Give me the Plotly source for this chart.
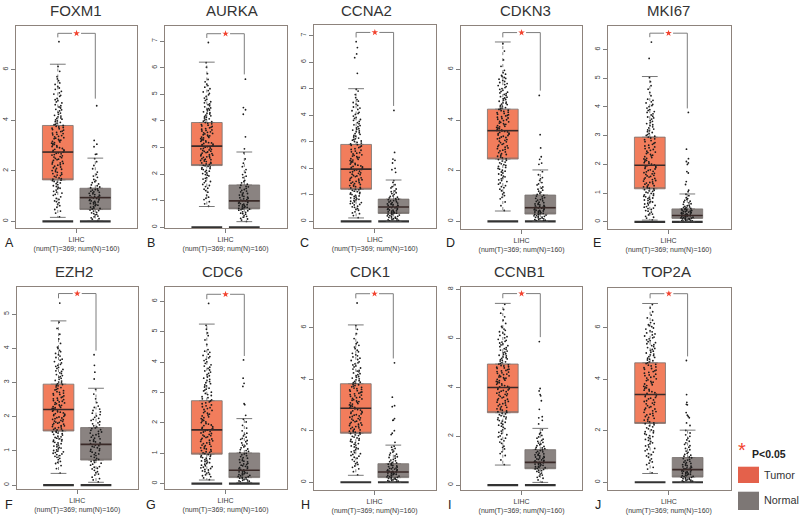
import plotly.graph_objects as go

genes = ["FOXM1", "AURKA", "CCNA2", "CDKN3", "MKI67", "EZH2", "CDC6", "CDK1", "CCNB1", "TOP2A"]
letters = ["A", "B", "C", "D", "E", "F", "G", "H", "I", "J"]
x_label = "LIHC<br>(num(T)=369; num(N)=160)"

y_ticks = [[0,2,4,6],[0,1,2,3,4,5,6,7],[0,1,2,3,4,5,6,7],[0,2,4,6],[0,1,2,3,4,5,6],
           [0,1,2,3,4,5],[0,1,2,3,4,5,6],[0,2,4,6],[0,2,4,6,8],[0,2,4,6]]
y_low = [-0.26,-0.04,-0.26,-0.30,-0.25,-0.125,-0.185,-0.30,-0.20,-0.30]
y_high = [7.72,7.57,7.40,7.71,6.82,5.80,6.46,7.57,8.10,7.55]

# box statistics: lower whisker, q1, median, q3, upper whisker
tumor_stats = [[0.16,1.64,2.74,3.79,6.21],[0.78,2.32,3.05,3.94,6.21],[0.13,1.21,1.97,2.90,5.00],
               [0.41,2.46,3.58,4.43,7.08],[0.06,1.15,1.97,2.95,5.06],[0.34,1.58,2.21,2.95,4.80],
               [0.12,0.97,1.77,2.73,5.25],[0.27,1.90,2.87,3.82,6.10],[0.82,2.96,3.99,4.95,7.43],
               [0.34,2.28,3.40,4.63,6.93]]
normal_stats = [[0.03,0.47,0.94,1.31,2.50],[0.21,0.69,0.99,1.59,2.83],[0.0,0.30,0.54,0.84,1.56],
                [0.0,0.29,0.54,1.04,2.03],[0.0,0.12,0.22,0.45,0.97],[0.08,0.73,1.19,1.68,2.83],
                [0.04,0.20,0.44,1.01,2.14],[0.0,0.18,0.40,0.72,1.44],[0.11,0.67,0.93,1.45,2.32],
                [0.0,0.20,0.49,0.96,2.02]]

# significance bracket: top, left foot, right foot
bracket_top = [7.43,7.28,7.12,7.45,6.57,5.60,6.23,7.31,7.83,7.31]
bracket_left = [7.27,7.12,6.93,7.26,6.43,5.46,6.07,7.13,7.64,7.13]
bracket_right = [4.85,5.75,4.35,5.16,3.95,3.93,4.20,4.80,6.05,4.88]

foxm1_t = [0.18,0.33,0.41,0.56,0.62,0.74,0.81,0.87,0.97,1.03,1.12,1.16,1.24,1.29,1.34,1.41,1.45,1.52,1.58,1.63,1.67,1.72,1.78,1.83,1.86,1.92,1.97,2.03,2.06,2.12,2.18,2.22,2.27,2.31,2.37,2.41,2.46,2.52,2.56,2.62,2.67,2.71,2.76,2.81,2.85,2.91,2.96,3.02,3.07,3.11,3.16,3.21,3.27,3.31,3.36,3.42,3.47,3.52,3.57,3.63,3.68,3.73,3.79,3.84,3.91,3.97,4.04,4.09,4.16,4.23,4.28,4.37,4.43,4.52,4.61,4.68,4.77,4.86,4.94,5.03,5.14,5.22,5.33,5.41,5.56,5.72,5.93,6.12,7.10]
foxm1_t2 = [0.47,0.68,0.78,0.91,1.07,1.19,1.31,1.38,1.49,1.55,1.61,1.69,1.75,1.81,1.89,1.94,2.01,2.09,2.15,2.24,2.29,2.34,2.44,2.49,2.54,2.59,2.64,2.69,2.74,2.79,2.83,2.88,2.94,2.99,3.04,3.09,3.14,3.19,3.24,3.29,3.34,3.39,3.44,3.49,3.55,3.61,3.66,3.71,3.76,3.82,3.88,3.94,4.01,4.07,4.13,4.19,4.31,4.41,4.48,4.57,4.72,4.81,4.98,5.08,5.27,5.47,5.63]
foxm1_n = [0.04,0.09,0.14,0.21,0.26,0.31,0.36,0.41,0.45,0.49,0.53,0.58,0.62,0.66,0.71,0.75,0.79,0.83,0.87,0.91,0.95,0.98,1.02,1.06,1.11,1.15,1.19,1.24,1.28,1.33,1.41,1.48,1.57,1.66,1.74,1.86,1.95,2.08,2.21,2.36,2.48,2.65,2.66,2.95,3.05,3.20,4.57]
foxm1_n2 = [0.11,0.18,0.28,0.34,0.43,0.51,0.56,0.64,0.69,0.73,0.77,0.81,0.85,0.89,0.93,0.97,1.01,1.04,1.09,1.13,1.17,1.22,1.26,1.36,1.44,1.53,1.61,1.79]
aurka_t = [0.79,0.88,0.96,1.04,1.13,1.21,1.32,1.38,1.47,1.53,1.61,1.68,1.74,1.81,1.87,1.93,1.98,2.04,2.09,2.14,2.19,2.24,2.29,2.33,2.38,2.42,2.47,2.51,2.54,2.58,2.63,2.67,2.71,2.74,2.79,2.83,2.86,2.91,2.95,2.98,3.03,3.07,3.11,3.15,3.18,3.23,3.27,3.31,3.36,3.39,3.44,3.48,3.53,3.57,3.62,3.66,3.71,3.76,3.81,3.86,3.91,3.97,4.03,4.08,4.14,4.19,4.26,4.31,4.38,4.44,4.49,4.57,4.64,4.72,4.81,4.92,5.03,5.14,5.27,5.38,5.56,5.78,6.02,6.19,6.95]
aurka_t2 = [1.09,1.43,1.57,1.72,1.84,1.96,2.02,2.11,2.17,2.21,2.27,2.31,2.36,2.41,2.44,2.49,2.53,2.56,2.61,2.65,2.69,2.73,2.77,2.81,2.85,2.89,2.93,2.97,3.01,3.05,3.09,3.13,3.17,3.21,3.25,3.29,3.33,3.38,3.42,3.46,3.51,3.55,3.59,3.64,3.69,3.74,3.79,3.84,3.89,3.94,3.99,4.06,4.11,4.17,4.22,4.29,4.34,4.41,4.46,4.53,4.61,4.68,4.77,4.86,4.98,5.09,5.21,5.33,5.47]
aurka_n = [0.22,0.27,0.33,0.38,0.44,0.49,0.53,0.58,0.62,0.66,0.69,0.72,0.75,0.78,0.82,0.85,0.89,0.93,0.97,1.00,1.04,1.09,1.13,1.18,1.24,1.29,1.36,1.42,1.49,1.54,1.58,1.67,1.76,1.87,1.98,2.06,2.17,2.28,2.41,2.57,2.80,2.95,3.40,4.25,4.42,4.50,5.57]
aurka_n2 = [0.31,0.41,0.51,0.56,0.64,0.68,0.71,0.74,0.77,0.81,0.84,0.87,0.91,0.95,0.99,1.02,1.07,1.11,1.16,1.21,1.27,1.33,1.39,1.46,1.52,1.62,1.72,1.92]
ccna2_t = [0.14,0.22,0.29,0.36,0.42,0.48,0.53,0.57,0.62,0.67,0.71,0.76,0.81,0.85,0.89,0.94,0.98,1.03,1.07,1.12,1.17,1.21,1.26,1.31,1.35,1.39,1.44,1.48,1.53,1.57,1.62,1.66,1.71,1.76,1.81,1.85,1.89,1.94,1.98,2.03,2.07,2.12,2.16,2.21,2.26,2.31,2.36,2.41,2.46,2.51,2.57,2.62,2.68,2.74,2.81,2.87,2.92,2.98,3.03,3.09,3.14,3.21,3.28,3.34,3.41,3.47,3.52,3.61,3.68,3.77,3.84,3.92,4.03,4.11,4.22,4.31,4.42,4.53,4.66,4.78,4.91,4.98,5.58,6.17,6.31,6.55,6.77]
ccna2_t2 = [0.32,0.45,0.55,0.64,0.69,0.74,0.79,0.83,0.87,0.91,0.96,1.01,1.05,1.09,1.14,1.19,1.24,1.28,1.33,1.37,1.42,1.46,1.51,1.55,1.59,1.64,1.69,1.73,1.78,1.83,1.87,1.92,1.96,2.01,2.05,2.09,2.14,2.19,2.24,2.29,2.34,2.39,2.44,2.49,2.54,2.59,2.65,2.71,2.78,2.84,2.89,2.95,3.01,3.06,3.11,3.18,3.24,3.31,3.38,3.44,3.49,3.57,3.64,3.72,3.81,3.88,3.97,4.07,4.17,4.27,4.37,4.48,4.59]
ccna2_n = [0.01,0.04,0.07,0.10,0.13,0.16,0.19,0.22,0.25,0.28,0.31,0.34,0.37,0.40,0.43,0.46,0.49,0.52,0.55,0.58,0.61,0.64,0.67,0.71,0.74,0.78,0.82,0.86,0.91,0.96,1.02,1.08,1.15,1.22,1.31,1.38,1.47,1.54,1.85,1.95,2.00,2.20,2.30,2.35,2.60,4.18]
ccna2_n2 = [0.02,0.06,0.09,0.12,0.15,0.18,0.21,0.24,0.27,0.30,0.33,0.36,0.39,0.42,0.45,0.48,0.51,0.54,0.57,0.60,0.63,0.66,0.69,0.73,0.77,0.81,0.84,0.89,0.94,1.05,1.12,1.26]
cdkn3_t = [0.43,0.62,0.77,0.89,1.02,1.13,1.21,1.33,1.41,1.52,1.61,1.68,1.76,1.83,1.91,1.98,2.06,2.13,2.21,2.27,2.34,2.41,2.47,2.54,2.61,2.67,2.74,2.81,2.87,2.93,2.98,3.04,3.11,3.17,3.23,3.28,3.33,3.39,3.44,3.48,3.53,3.57,3.61,3.66,3.71,3.75,3.81,3.86,3.91,3.95,4.01,4.06,4.11,4.16,4.21,4.26,4.31,4.37,4.42,4.47,4.52,4.58,4.63,4.68,4.74,4.81,4.87,4.92,5.01,5.07,5.13,5.21,5.28,5.36,5.44,5.52,5.61,5.68,5.76,5.87,5.96,6.12,6.37,6.72,7.01]
cdkn3_t2 = [0.95,1.08,1.27,1.37,1.47,1.57,1.64,1.72,1.79,1.87,1.95,2.02,2.09,2.17,2.24,2.31,2.38,2.44,2.51,2.57,2.64,2.71,2.78,2.84,2.9,2.96,3.01,3.07,3.14,3.2,3.26,3.31,3.36,3.41,3.46,3.51,3.55,3.59,3.64,3.69,3.73,3.78,3.83,3.88,3.93,3.98,4.03,4.08,4.13,4.18,4.23,4.29,4.34,4.39,4.44,4.49,4.55,4.61,4.66,4.71,4.78,4.84,4.9,4.97,5.04,5.1,5.17,5.24,5.32,5.4,5.48,5.56,5.64,5.72,5.81]
cdkn3_n = [0.02,0.05,0.08,0.11,0.14,0.17,0.20,0.23,0.26,0.29,0.32,0.35,0.38,0.41,0.44,0.47,0.50,0.53,0.56,0.59,0.63,0.67,0.71,0.76,0.81,0.86,0.91,0.97,1.03,1.11,1.19,1.27,1.36,1.44,1.53,1.62,1.73,1.84,1.96,2.25,2.30,2.45,2.55,2.90,3.42,4.97]
cdkn3_n2 = [0.03,0.07,0.1,0.13,0.16,0.19,0.22,0.25,0.28,0.31,0.34,0.37,0.4,0.43,0.46,0.49,0.52,0.55,0.58,0.61,0.65,0.69,0.74,0.79,0.84,0.89,0.94,1.0,1.07,1.15,1.23,1.31,1.48,1.68]
mki67_t = [0.07,0.13,0.19,0.24,0.29,0.34,0.39,0.43,0.48,0.53,0.57,0.62,0.67,0.71,0.76,0.81,0.85,0.89,0.94,0.99,1.03,1.08,1.12,1.17,1.22,1.26,1.31,1.35,1.39,1.44,1.49,1.53,1.58,1.62,1.67,1.71,1.76,1.81,1.86,1.91,1.95,2.01,2.06,2.11,2.16,2.21,2.27,2.32,2.38,2.43,2.49,2.55,2.61,2.67,2.73,2.79,2.86,2.92,2.98,3.04,3.11,3.17,3.23,3.31,3.38,3.46,3.53,3.62,3.68,3.76,3.84,3.91,4.01,4.09,4.18,4.27,4.39,4.51,4.62,4.74,4.88,5.02,5.69,6.26]
mki67_t2 = [0.16,0.27,0.37,0.46,0.51,0.59,0.65,0.69,0.74,0.79,0.83,0.87,0.92,0.97,1.01,1.06,1.1,1.15,1.19,1.24,1.29,1.33,1.37,1.42,1.47,1.51,1.56,1.6,1.65,1.69,1.74,1.79,1.84,1.89,1.93,1.98,2.04,2.09,2.14,2.19,2.24,2.3,2.35,2.41,2.46,2.52,2.58,2.64,2.7,2.76,2.83,2.89,2.95,3.01,3.08,3.14,3.2,3.27,3.35,3.42,3.5,3.58,3.65,3.72,3.81,3.88,3.96,4.05,4.14,4.23]
mki67_n = [0.01,0.03,0.05,0.07,0.09,0.11,0.13,0.15,0.17,0.19,0.21,0.23,0.25,0.27,0.29,0.31,0.33,0.35,0.37,0.39,0.41,0.43,0.46,0.49,0.52,0.56,0.61,0.66,0.72,0.78,0.84,0.91,0.96,1.05,1.10,1.30,1.40,1.70,1.75,2.00,2.05,2.10,2.20,2.53,3.81]
mki67_n2 = [0.02,0.04,0.06,0.08,0.1,0.12,0.14,0.16,0.18,0.2,0.22,0.24,0.26,0.28,0.3,0.32,0.34,0.36,0.38,0.4,0.42,0.44,0.47,0.5,0.54,0.58,0.63,0.69,0.75,0.81]
ezh2_t = [0.35,0.48,0.57,0.63,0.69,0.74,0.81,0.86,0.91,0.95,0.99,1.03,1.08,1.12,1.16,1.21,1.25,1.29,1.33,1.37,1.41,1.46,1.50,1.54,1.57,1.61,1.64,1.68,1.71,1.74,1.78,1.81,1.84,1.87,1.91,1.94,1.97,2.01,2.04,2.07,2.11,2.14,2.17,2.21,2.24,2.27,2.31,2.34,2.38,2.41,2.45,2.48,2.52,2.56,2.61,2.65,2.69,2.73,2.78,2.82,2.87,2.92,2.96,3.01,3.06,3.12,3.17,3.23,3.28,3.34,3.41,3.47,3.53,3.61,3.68,3.77,3.85,3.94,4.03,4.14,4.27,4.41,4.58,4.76,5.32]
ezh2_t2 = [0.66,0.78,0.84,0.89,0.93,0.97,1.01,1.06,1.1,1.14,1.18,1.23,1.27,1.31,1.35,1.39,1.43,1.48,1.52,1.55,1.59,1.63,1.66,1.7,1.73,1.76,1.8,1.83,1.86,1.89,1.92,1.96,1.99,2.03,2.06,2.09,2.13,2.16,2.19,2.23,2.26,2.29,2.33,2.36,2.4,2.43,2.47,2.5,2.54,2.58,2.63,2.67,2.71,2.76,2.8,2.85,2.9,2.94,2.99,3.04,3.09,3.15,3.2,3.26,3.32,3.38,3.44,3.5,3.57,3.65,3.73,3.81,3.9,3.99]
ezh2_n = [0.09,0.15,0.23,0.29,0.36,0.43,0.49,0.54,0.61,0.66,0.71,0.75,0.81,0.86,0.91,0.96,1.01,1.06,1.11,1.15,1.19,1.23,1.28,1.32,1.37,1.42,1.47,1.52,1.57,1.62,1.67,1.73,1.79,1.85,1.92,1.98,2.06,2.14,2.22,2.31,2.41,2.52,2.66,2.80,3.10,3.30,3.50,3.81]
ezh2_n2 = [0.19,0.32,0.39,0.47,0.52,0.58,0.64,0.69,0.73,0.78,0.84,0.89,0.94,0.99,1.04,1.09,1.13,1.17,1.21,1.26,1.3,1.35,1.4,1.45,1.5,1.55,1.6,1.65,1.7,1.76,1.82,1.89,1.95,2.02,2.1,2.18,2.27]
cdc6_t = [0.13,0.19,0.26,0.31,0.37,0.42,0.47,0.52,0.56,0.61,0.66,0.71,0.75,0.79,0.84,0.88,0.92,0.96,1.01,1.05,1.09,1.14,1.18,1.23,1.27,1.32,1.36,1.41,1.45,1.49,1.54,1.58,1.62,1.67,1.72,1.76,1.81,1.85,1.91,1.96,2.01,2.06,2.11,2.17,2.23,2.29,2.34,2.41,2.47,2.53,2.59,2.66,2.72,2.79,2.86,2.93,3.01,3.08,3.14,3.22,3.29,3.36,3.43,3.51,3.59,3.67,3.74,3.83,3.91,4.01,4.09,4.18,4.26,4.32,4.41,4.58,4.73,4.87,4.96,5.08,5.21,5.93]
cdc6_t2 = [0.23,0.29,0.34,0.4,0.45,0.5,0.54,0.59,0.64,0.69,0.73,0.77,0.82,0.86,0.9,0.94,0.99,1.03,1.07,1.12,1.16,1.21,1.25,1.3,1.34,1.39,1.43,1.47,1.52,1.56,1.6,1.65,1.7,1.74,1.79,1.83,1.88,1.93,1.98,2.03,2.08,2.14,2.2,2.26,2.32,2.38,2.44,2.5,2.56,2.63,2.69,2.76,2.83,2.9,2.97,3.05,3.11,3.18,3.25,3.32,3.4,3.47,3.55,3.63,3.71,3.79,3.87,3.96,4.05,4.14,4.22,4.36]
cdc6_n = [0.05,0.08,0.11,0.14,0.17,0.20,0.23,0.26,0.29,0.32,0.35,0.38,0.41,0.44,0.47,0.51,0.55,0.59,0.63,0.67,0.72,0.76,0.81,0.86,0.92,0.98,1.03,1.09,1.14,1.21,1.27,1.34,1.42,1.49,1.57,1.66,1.74,1.83,1.92,2.03,2.12,2.25,2.60,2.63,3.20,3.30,3.47,4.07]
cdc6_n2 = [0.06,0.09,0.12,0.15,0.18,0.21,0.24,0.27,0.3,0.33,0.36,0.39,0.42,0.45,0.49,0.53,0.57,0.61,0.65,0.7,0.74,0.79,0.84,0.89,0.95,1.0,1.06,1.12,1.18,1.24,1.31,1.38,1.46,1.53,1.62]
cdk1_t = [0.29,0.41,0.52,0.63,0.72,0.81,0.88,0.97,1.04,1.11,1.18,1.26,1.33,1.41,1.47,1.53,1.59,1.66,1.72,1.78,1.84,1.89,1.94,1.98,2.03,2.08,2.13,2.18,2.22,2.27,2.32,2.37,2.42,2.47,2.52,2.57,2.62,2.67,2.72,2.77,2.82,2.88,2.93,2.98,3.03,3.08,3.13,3.18,3.23,3.28,3.33,3.38,3.43,3.48,3.53,3.58,3.63,3.68,3.73,3.78,3.83,3.88,3.94,4.01,4.07,4.13,4.21,4.28,4.34,4.43,4.51,4.59,4.67,4.76,4.86,4.94,5.06,5.18,5.31,5.42,5.57,5.76,5.93,6.07,6.95]
cdk1_t2 = [0.58,0.69,0.77,0.93,1.01,1.08,1.15,1.22,1.3,1.37,1.44,1.5,1.56,1.63,1.69,1.75,1.81,1.87,1.92,1.96,2.01,2.06,2.11,2.16,2.2,2.25,2.3,2.35,2.4,2.45,2.5,2.55,2.6,2.65,2.7,2.75,2.8,2.85,2.9,2.95,3.0,3.05,3.1,3.15,3.2,3.25,3.3,3.35,3.4,3.45,3.5,3.55,3.6,3.65,3.7,3.75,3.8,3.86,3.91,3.97,4.04,4.1,4.17,4.24,4.31,4.39,4.47,4.55,4.63,4.72,4.81,4.9,5.0,5.12,5.24,5.37]
cdk1_n = [0.01,0.04,0.07,0.10,0.13,0.16,0.19,0.22,0.25,0.28,0.31,0.34,0.37,0.40,0.43,0.46,0.49,0.52,0.55,0.59,0.63,0.67,0.72,0.77,0.83,0.89,0.96,1.02,1.09,1.17,1.26,1.36,1.55,1.85,1.90,2.00,2.40,2.41,2.47,2.93,2.97,3.30,4.63]
cdk1_n2 = [0.03,0.06,0.09,0.12,0.15,0.18,0.21,0.24,0.27,0.3,0.33,0.36,0.39,0.42,0.45,0.48,0.51,0.54,0.57,0.61,0.65,0.7,0.75,0.8,0.86,0.93,0.99,1.06,1.13,1.21,1.31,1.4]
ccnb1_t = [0.84,1.03,1.21,1.36,1.48,1.59,1.71,1.81,1.92,2.01,2.11,2.21,2.31,2.41,2.49,2.57,2.64,2.71,2.78,2.84,2.91,2.97,3.03,3.09,3.15,3.21,3.27,3.33,3.39,3.45,3.51,3.57,3.63,3.68,3.73,3.79,3.84,3.89,3.94,3.99,4.04,4.09,4.14,4.19,4.24,4.29,4.34,4.39,4.44,4.49,4.54,4.59,4.64,4.69,4.74,4.79,4.84,4.89,4.95,5.01,5.07,5.13,5.18,5.24,5.31,5.37,5.44,5.52,5.58,5.66,5.73,5.81,5.88,5.96,6.07,6.16,6.27,6.38,6.49,6.61,6.74,6.88,7.03,7.18,7.39]
ccnb1_t2 = [1.29,1.54,1.76,1.87,1.97,2.06,2.16,2.26,2.36,2.45,2.53,2.61,2.68,2.75,2.81,2.88,2.94,3.0,3.06,3.12,3.18,3.24,3.3,3.36,3.42,3.48,3.54,3.6,3.66,3.71,3.76,3.82,3.87,3.92,3.97,4.02,4.07,4.12,4.17,4.22,4.27,4.32,4.37,4.42,4.47,4.52,4.57,4.62,4.67,4.72,4.77,4.82,4.87,4.92,4.98,5.04,5.1,5.16,5.21,5.28,5.34,5.41,5.48,5.55,5.62,5.7,5.77,5.85,5.92,6.02,6.12,6.22,6.33,6.44]
ccnb1_n = [0.12,0.21,0.32,0.41,0.49,0.56,0.61,0.66,0.71,0.75,0.79,0.83,0.86,0.89,0.93,0.96,0.99,1.03,1.07,1.11,1.15,1.19,1.24,1.28,1.33,1.38,1.44,1.49,1.54,1.61,1.68,1.75,1.83,1.92,2.03,2.14,2.26,2.50,2.65,2.75,2.80,3.10,3.45,3.65,3.70,3.85,3.95,5.87]
ccnb1_n2 = [0.28,0.37,0.45,0.53,0.59,0.64,0.68,0.73,0.77,0.81,0.85,0.88,0.91,0.94,0.97,1.01,1.05,1.09,1.13,1.17,1.22,1.26,1.31,1.36,1.41,1.47,1.52,1.58,1.65,1.72,1.79,1.88,1.97,2.09]
top2a_t = [0.36,0.51,0.68,0.79,0.91,1.02,1.11,1.22,1.31,1.41,1.49,1.58,1.66,1.73,1.81,1.88,1.96,2.03,2.11,2.19,2.27,2.34,2.41,2.48,2.55,2.61,2.67,2.74,2.81,2.87,2.93,3.01,3.07,3.13,3.19,3.26,3.32,3.38,3.44,3.51,3.57,3.63,3.69,3.75,3.81,3.88,3.94,4.01,4.07,4.13,4.19,4.26,4.32,4.38,4.44,4.51,4.57,4.63,4.71,4.77,4.84,4.91,4.97,5.04,5.11,5.19,5.26,5.33,5.41,5.49,5.56,5.63,5.71,5.79,5.87,5.94,6.03,6.11,6.19,6.28,6.37,6.48,6.61,6.76,6.89]
top2a_t2 = [0.58,0.74,0.85,0.97,1.07,1.17,1.27,1.37,1.45,1.53,1.62,1.69,1.77,1.85,1.92,1.99,2.07,2.15,2.23,2.3,2.37,2.44,2.51,2.58,2.64,2.71,2.77,2.84,2.9,2.97,3.04,3.1,3.16,3.23,3.29,3.35,3.41,3.47,3.54,3.6,3.66,3.72,3.78,3.85,3.91,3.97,4.04,4.1,4.16,4.23,4.29,4.35,4.41,4.47,4.54,4.6,4.67,4.74,4.81,4.87,4.94,5.01,5.08,5.15,5.22,5.3,5.37,5.45,5.52,5.6,5.67,5.75,5.83,5.98,6.07,6.15]
top2a_n = [0.01,0.04,0.07,0.10,0.13,0.16,0.19,0.22,0.25,0.28,0.31,0.34,0.37,0.40,0.43,0.46,0.49,0.52,0.55,0.58,0.62,0.66,0.71,0.76,0.81,0.86,0.92,0.98,1.05,1.12,1.21,1.31,1.42,1.53,1.64,1.78,1.91,2.01,2.20,2.30,2.50,2.55,2.60,2.70,3.00,3.02,3.10,3.40,4.72]
top2a_n2 = [0.02,0.05,0.08,0.11,0.14,0.17,0.2,0.23,0.26,0.29,0.32,0.35,0.38,0.41,0.44,0.47,0.5,0.53,0.56,0.6,0.64,0.68,0.73,0.78,0.83,0.89,0.95,1.01,1.08,1.16,1.26,1.36,1.47,1.59,1.71,1.84]

tumor_points = [foxm1_t + foxm1_t2, aurka_t + aurka_t2, ccna2_t + ccna2_t2, cdkn3_t + cdkn3_t2, mki67_t + mki67_t2,
                ezh2_t + ezh2_t2, cdc6_t + cdc6_t2, cdk1_t + cdk1_t2, ccnb1_t + ccnb1_t2, top2a_t + top2a_t2]
normal_points = [foxm1_n + foxm1_n2, aurka_n + aurka_n2, ccna2_n + ccna2_n2, cdkn3_n + cdkn3_n2, mki67_n + mki67_n2,
                 ezh2_n + ezh2_n2, cdc6_n + cdc6_n2, cdk1_n + cdk1_n2, ccnb1_n + ccnb1_n2, top2a_n + top2a_n2]

W, H = 800, 518
TUMOR = "#f27d5c"
NORMAL = "#8a8381"
FRAME = "#8d837c"
INK = "#3a3a3a"
GREY = "#7d7d7d"

# panel frames in pixels: left, right, top, bottom
frames = [(16,137,26,228),(165,286.7,26,228.3),(314.3,435.7,25,228.3),(461,582,26,229),(608,730.7,26,229),
          (16.7,138.3,286.7,489.3),(165,286.7,287.3,489.3),(314,435.7,287,490),(461,582.3,287,490),(608.3,730.7,287.5,490)]
title_pos = [(76,11),(232,11),(366.7,11),(525.7,11),(668,11),
             (74,271),(222,271),(370,271),(519,271),(666,271)]
letter_pos = [(9,243),(151,243),(304.7,243),(450.7,243),(596.7,243),
              (9,505),(151,505),(305,505),(449,505),(597.7,505)]

BOX_HALF = 0.41
CAP_HALF = 0.21


def px(x):
    return x / W


def py(y):
    return 1 - y / H


fig = go.Figure()
annotations = []
layout_axes = {}

for i, gene in enumerate(genes):
    n = "" if i == 0 else str(i + 1)
    xa, ya = "x" + n, "y" + n
    l, r, t, b = frames[i]
    unit = 37.5
    layout_axes["xaxis" + n] = dict(
        domain=[px(l), px(r)], anchor=ya, range=[-(41.8 / unit), (r - l - 41.8) / unit],
        tickmode="array", tickvals=[0.5], ticktext=[x_label], ticks="outside", ticklen=4, tickwidth=0.8,
        tickcolor=GREY, tickfont=dict(size=7, color=INK, family="Liberation Sans"), showgrid=False, zeroline=False,
        showline=True, mirror=True, linecolor=FRAME, linewidth=1.2, tickangle=0,
    )
    layout_axes["yaxis" + n] = dict(
        domain=[py(b), py(t)], anchor=xa, range=[y_low[i], y_high[i]],
        tickmode="array", tickvals=y_ticks[i], ticktext=[str(v) for v in y_ticks[i]], ticks="outside", ticklen=4,
        tickwidth=0.8, tickcolor=GREY, tickfont=dict(size=7, color=INK, family="Liberation Sans"), tickangle=-90,
        showgrid=False, zeroline=False, showline=True, mirror=True, linecolor=FRAME, linewidth=1.2,
    )

    for pos, stats, pts, color in ((0, tumor_stats[i], tumor_points[i], TUMOR), (1, normal_stats[i], normal_points[i], NORMAL)):
        lo, q1, med, q3, up = stats
        fig.add_trace(go.Box(x=[pos], q1=[q1], median=[q1], q3=[q3], lowerfence=[q1], upperfence=[q3],
                             width=BOX_HALF * 2, fillcolor=color, line=dict(color="#77716e", width=0.8),
                             xaxis=xa, yaxis=ya, hoverinfo="skip", showlegend=False))
        fig.add_trace(go.Box(x=[pos], q1=[0], median=[0], q3=[0], lowerfence=[0], upperfence=[0],
                             width=BOX_HALF * 2, fillcolor="#333333", line=dict(color="#333333", width=2.2),
                             xaxis=xa, yaxis=ya, hoverinfo="skip", showlegend=False))
        fig.add_trace(go.Scatter(x=[pos, pos, None, pos, pos], y=[q3, up, None, q1, lo], mode="lines",
                                 line=dict(color="#555555", width=0.7, dash="dot"), xaxis=xa, yaxis=ya,
                                 hoverinfo="skip", showlegend=False))
        fig.add_trace(go.Scatter(x=[pos - CAP_HALF, pos + CAP_HALF, None, pos - CAP_HALF, pos + CAP_HALF],
                                 y=[up, up, None, lo, lo], mode="lines", line=dict(color="#555555", width=0.8),
                                 xaxis=xa, yaxis=ya, hoverinfo="skip", showlegend=False))
        fig.add_trace(go.Scatter(x=[pos - BOX_HALF, pos + BOX_HALF], y=[med, med], mode="lines",
                                 line=dict(color="#3a2a28", width=1.6), xaxis=xa, yaxis=ya,
                                 hoverinfo="skip", showlegend=False))
        fig.add_trace(go.Box(x0=pos, y=pts, boxpoints="all", jitter=0.42, pointpos=0, width=BOX_HALF * 2,
                             fillcolor="rgba(0,0,0,0)", line=dict(color="rgba(0,0,0,0)", width=0),
                             marker=dict(color="#1c1c1c", size=1.8), xaxis=xa, yaxis=ya,
                             hoverinfo="skip", showlegend=False))

    fig.add_trace(go.Scatter(x=[0, 0, 0.38, None, 0.62, 1, 1],
                             y=[bracket_left[i], bracket_top[i], bracket_top[i], None, bracket_top[i], bracket_top[i], bracket_right[i]],
                             mode="lines", line=dict(color=GREY, width=1), xaxis=xa, yaxis=ya,
                             hoverinfo="skip", showlegend=False))
    fig.add_trace(go.Scatter(x=[0.5], y=[bracket_top[i]], mode="markers",
                             marker=dict(symbol="star", color="#f2432f", size=5), xaxis=xa, yaxis=ya,
                             hoverinfo="skip", showlegend=False))

    annotations.append(dict(text=gene, x=px(title_pos[i][0]), y=py(title_pos[i][1]), xref="paper", yref="paper",
                            xanchor="center", yanchor="middle", showarrow=False,
                            font=dict(size=15, color="#333333", family="Liberation Sans")))
    annotations.append(dict(text=letters[i], x=px(letter_pos[i][0]), y=py(letter_pos[i][1]), xref="paper", yref="paper",
                            xanchor="center", yanchor="middle", showarrow=False,
                            font=dict(size=12.5, color="#222222", family="Liberation Sans")))

legend_entries = [("Tumor", "#e4614b", 466.7, 483, 475), ("Normal", "#7d7775", 491.7, 510, 500)]
shapes = []
for name, col, top, bottom, mid in legend_entries:
    shapes.append(dict(type="rect", xref="paper", yref="paper", x0=px(738), x1=px(759), y0=py(bottom), y1=py(top),
                       fillcolor=col, line=dict(width=0)))
    annotations.append(dict(text=name, x=px(762), y=py(mid), xref="paper", yref="paper", xanchor="left", yanchor="middle",
                            showarrow=False, font=dict(size=10.8, color="#333333", family="Liberation Sans")))
annotations.append(dict(text="<b>P<0.05</b>", x=px(750), y=py(454), xref="paper", yref="paper", xanchor="left",
                        yanchor="middle", showarrow=False, font=dict(size=10.5, color="#222222", family="Liberation Sans")))
annotations.append(dict(text="*", x=px(742), y=py(450), xref="paper", yref="paper", xanchor="center", yanchor="middle",
                        showarrow=False, font=dict(size=20, color="#f2432f", family="Liberation Sans")))

fig.update_layout(width=W, height=H, autosize=False, margin=dict(l=0, r=0, t=0, b=0), paper_bgcolor="white",
                  plot_bgcolor="white", boxmode="overlay", showlegend=False, annotations=annotations, shapes=shapes,
                  **layout_axes)

fig.write_html("out.html", config={"displayModeBar": False}, post_script="document.body.style.margin='0';window.dispatchEvent(new Event('resize'));")
